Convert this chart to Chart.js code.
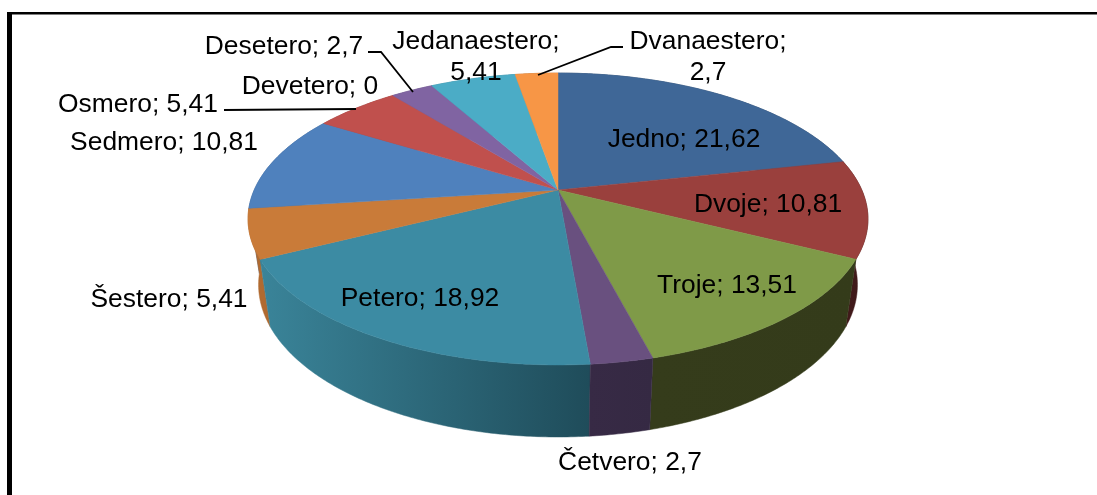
<!DOCTYPE html>
<html>
<head>
<meta charset="utf-8">
<style>html,body{margin:0;padding:0;background:#fff;overflow:hidden}canvas{display:block}</style>
<script src="https://cdn.jsdelivr.net/npm/chart.js@4"></script>
</head>
<body>
<canvas id="c" width="1097" height="495"></canvas>
<script>
const categories = ['Jedno','Dvoje','Troje','Četvero','Petero','Šestero','Sedmero','Osmero','Devetero','Desetero','Jedanaestero','Dvanaestero'];
const values = [21.62,10.81,13.51,2.7,18.92,5.41,10.81,5.41,0,2.7,5.41,2.7];
const valueLabels = ['21,62','10,81','13,51','2,7','18,92','5,41','10,81','5,41','0','2,7','5,41','2,7'];
const topColors = ['#3f6797','#9a403d','#7f9a48','#69507f','#3c8ba3','#c97b39','#4f81bd','#c0504d','#9bbb59','#8064a2','#4bacc6','#f79646'];
const wallLeft = ['#2a4463','#44191a','#353c1b','#372a45','#3a8499','#b06a30','#3a6090','#8a3a38','#6f8a3f','#5e4a78','#378095','#b06a30'];
const wallRight = ['#2a4463','#3e1a1a','#343b1a','#352943','#1f4c5a','#b06a30','#3a6090','#8a3a38','#6f8a3f','#5e4a78','#378095','#b06a30'];

// Label anchor (centre x, centre y, lines) kept apart from the data
const labelPlace = [
  [684,138,1],[768,203,1],[727,284,1],[630,461,1],[420,297,1],[169,298,1],
  [164,141,1],[138,103,1],[310,85,1],[284,45,1],[476,40,2],[708,40,2]
];
const leaderLines = [
  [[224,110],[356,109]],
  [[368,52],[381,52],[413,92]],
  [[623,47],[611,47],[538,75]]
];

// Perspective projection of the unit circle onto the pie's top face
const P = {cx:558, cy:190, a:303.8, b:140.2, k:0.1986, sx:0.966, sy:1.043, dy:64.5};
function topPt(t){
  const x=Math.cos(t), y=Math.sin(t), w=1-P.k*y;
  return [P.cx+P.a*x/w, P.cy+P.b*y/w];
}
function botPt(t){
  const p=topPt(t);
  return [P.cx+(p[0]-P.cx)*P.sx, P.cy+(p[1]-P.cy)*P.sy+P.dy];
}
function rim(s,e,fn){
  const n=Math.max(2,Math.ceil((e-s)/0.01)), out=[];
  for(let i=0;i<=n;i++) out.push(fn(s+(e-s)*i/n));
  return out;
}
function trace(ctx,pts){
  ctx.beginPath();
  pts.forEach((p,i)=>i?ctx.lineTo(p[0],p[1]):ctx.moveTo(p[0],p[1]));
  ctx.closePath();
}

const pie3d = {
  id:'pie3d',
  beforeDraw(chart){
    const ctx=chart.ctx;
    ctx.save();
    ctx.fillStyle='#fff';
    ctx.fillRect(0,0,chart.width,chart.height);
    ctx.fillStyle='#000';
    ctx.fillRect(7,12,5,chart.height-12);
    ctx.fillRect(7,12,chart.width-7,2.5);
    ctx.restore();
  },
  beforeDatasetDraw(chart,args){
    const ctx=chart.ctx, arcs=chart.getDatasetMeta(args.index).data;
    ctx.save();
    const order=arcs.map((el,i)=>i).sort((p,q)=>
      Math.sin((arcs[p].startAngle+arcs[p].endAngle)/2)-Math.sin((arcs[q].startAngle+arcs[q].endAngle)/2));
    order.forEach(i=>{
      const el=arcs[i];
      if(el.endAngle-el.startAngle<=0) return;
      const t=rim(el.startAngle,el.endAngle,topPt), b=rim(el.startAngle,el.endAngle,botPt);
      const xs=t.concat(b).map(p=>p[0]);
      const g=ctx.createLinearGradient(Math.min(...xs),0,Math.max(...xs),0);
      g.addColorStop(0,wallLeft[i]); g.addColorStop(1,wallRight[i]);
      trace(ctx,t.concat(b.reverse()));
      ctx.fillStyle=g; ctx.strokeStyle=g; ctx.lineWidth=0.5;
      ctx.fill(); ctx.stroke();
    });
    arcs.forEach(el=>{
      if(el.endAngle-el.startAngle<=0) return;
      trace(ctx,[[P.cx,P.cy]].concat(rim(el.startAngle,el.endAngle,topPt)));
      ctx.fillStyle=el.options.backgroundColor;
      ctx.strokeStyle=el.options.backgroundColor;
      ctx.lineWidth=0.5;
      ctx.fill(); ctx.stroke();
    });
    ctx.restore();
    return false;
  },
  afterDatasetsDraw(chart){
    const ctx=chart.ctx;
    ctx.save();
    ctx.strokeStyle='#000'; ctx.lineWidth=1.8;
    leaderLines.forEach(l=>{
      ctx.beginPath();
      l.forEach((p,i)=>i?ctx.lineTo(p[0],p[1]):ctx.moveTo(p[0],p[1]));
      ctx.stroke();
    });
    ctx.fillStyle='#000';
    ctx.font='26.4px "Liberation Sans", Arial, sans-serif';
    ctx.textAlign='center'; ctx.textBaseline='middle';
    categories.forEach((name,i)=>{
      const [x,y,lines]=labelPlace[i];
      if(lines===2){
        ctx.fillText(name+';',x,y+2);
        ctx.fillText(valueLabels[i],x,y+33);
      } else {
        ctx.fillText(name+'; '+valueLabels[i],x,y+2);
      }
    });
    ctx.restore();
  }
};

new Chart(document.getElementById('c'),{
  type:'pie',
  data:{labels:categories,datasets:[{data:values,backgroundColor:topColors,borderWidth:0}]},
  options:{
    responsive:false,animation:false,
    plugins:{legend:{display:false},tooltip:{enabled:false}}
  },
  plugins:[pie3d]
});
</script>
</body>
</html>
